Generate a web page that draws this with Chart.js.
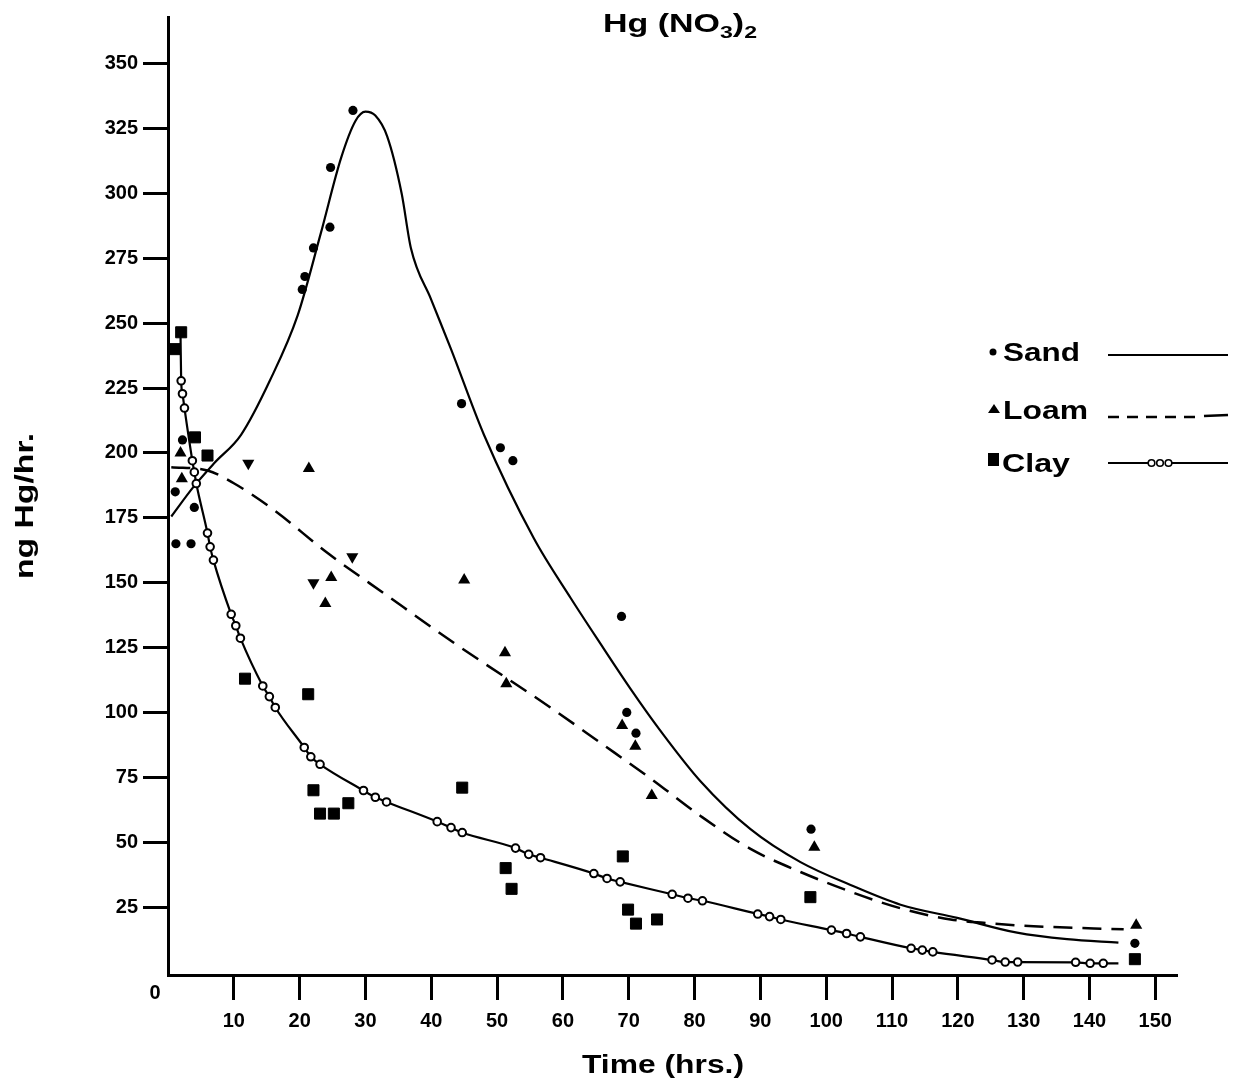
<!DOCTYPE html>
<html>
<head>
<meta charset="utf-8">
<title>Hg (NO3)2</title>
<script src="https://cdn.jsdelivr.net/npm/chart.js@4.4.0/dist/chart.umd.min.js"></script>
<style>
  html, body { margin: 0; padding: 0; background: #fff; }
  #wrap { position: relative; width: 1234px; height: 1088px; }
</style>
</head>
<body>
<div id="wrap"><canvas id="chart"></canvas></div>
<script>
// tick labels
var xTicks = [10, 20, 30, 40, 50, 60, 70, 80, 90, 100, 110, 120, 130, 140, 150];
var yTicks = [25, 50, 75, 100, 125, 150, 175, 200, 225, 250, 275, 300, 325, 350];

// measured points (time in hrs, ng Hg/hr)
var sandX = [1.1, 1.2, 2.2, 3.5, 4.0, 20.4, 20.8, 22.1, 24.6, 24.7, 28.1, 44.6, 50.5, 52.4, 68.9, 69.7, 71.1, 97.7, 146.9];
var sandY = [185, 165, 205, 165, 179, 263, 268, 279, 287, 310, 332, 219, 202, 197, 137, 100, 92, 55, 11];

var loamX = [1.9, 2.1, 21.4, 23.9, 24.8, 45.0, 51.2, 51.4, 69.0, 71.0, 73.5, 98.2, 147.1];
var loamY = [200, 190, 194, 142, 152, 151, 123, 111, 95, 87, 68, 48, 18];

// inverted triangles
var loamDownX = [12.2, 22.1, 28.0];
var loamDownY = [196, 150, 160];

var clayX = [1.0, 2.0, 4.1, 6.0, 11.7, 21.3, 22.1, 23.1, 25.2, 27.4, 44.7, 51.3, 52.2, 69.1, 69.9, 71.1, 74.3, 97.6, 146.9];
var clayY = [240, 246.5, 206, 199, 113, 107, 70, 61, 61, 65, 71, 40, 32, 44.5, 24, 18.6, 20.2, 28.8, 4.9];

// fitted curves
var sandCurveX = [0.5, 3.9, 7, 11.1, 15.5, 19.7, 23.2, 26.3, 28.5, 30, 31.5, 33.3, 35.5, 36.9, 40, 43, 48, 55.6, 61.2, 65.7, 70.3, 74.8, 80.9, 88.5, 96.1, 103.7, 111.3, 119.9, 129, 136.6, 144.4];
var sandCurveY = [175.5, 187, 196, 207, 228, 253, 284.5, 313.7, 328, 331.5, 330, 322, 300, 279, 259, 240, 207, 167, 144, 126.5, 109, 93, 73.5, 55, 42.3, 33.5, 25.9, 20.8, 15.1, 12.6, 11.3];

var loamCurveX = [0.5, 6, 10, 16.1, 24.2, 33.3, 43.5, 58.1, 65.7, 73.3, 80.9, 88.5, 96.1, 103.7, 111.3, 118.9, 123.9, 131.5, 145.2];
var loamCurveY = [194.5, 193.2, 188.3, 178, 161.5, 145, 126.7, 101.9, 88.3, 74.6, 60.1, 47.4, 38.5, 30.9, 24.5, 20.2, 18.9, 17.6, 16.4];

var clayCurveX = [1.9, 2.0, 2.2, 2.5, 3.7, 4.0, 4.3, 6.0, 6.4, 6.9, 9.6, 10.3, 11.0, 14.4, 15.4, 16.3, 20.7, 21.7, 23.1, 29.7, 31.5, 33.2, 40.9, 43.0, 44.7, 52.8, 54.8, 56.6, 64.7, 66.7, 68.7, 76.6, 79.0, 81.2, 89.6, 91.4, 93.1, 100.8, 103.1, 105.2, 112.9, 114.6, 116.2, 125.2, 127.2, 129.1, 137.9, 140.1, 142.1, 144.4];
var clayCurveY = [246, 227.8, 222.8, 217.3, 197, 192.6, 188.2, 169.1, 163.8, 158.7, 137.8, 133.4, 128.6, 110.2, 106.1, 101.9, 86.5, 82.9, 80, 69.9, 67.3, 65.5, 57.9, 55.6, 53.7, 47.7, 45.3, 44, 37.9, 36, 34.7, 29.9, 28.4, 27.4, 22.3, 21.3, 20.2, 16.1, 14.8, 13.5, 9.1, 8.4, 7.7, 4.6, 3.8, 3.8, 3.7, 3.3, 3.3, 3.3];

var FONT = '"Liberation Sans", Arial, Helvetica, sans-serif';

function zip(xs, ys) {
  return xs.map(function (x, i) { return { x: x, y: ys[i] }; });
}

// text stretched to the width it has in the scan
function wideText(ctx, text, x, y, size, width) {
  ctx.save();
  ctx.font = 'bold ' + size + 'px ' + FONT;
  var natural = ctx.measureText(text).width;
  ctx.translate(x, y);
  ctx.scale(width / natural, 1);
  ctx.textAlign = 'left';
  ctx.textBaseline = 'alphabetic';
  ctx.fillText(text, 0, 0);
  ctx.restore();
}

var labelsPlugin = {
  id: 'labels',
  afterDraw: function (chart) {
    var ctx = chart.ctx;
    ctx.save();
    ctx.fillStyle = '#000';
    ctx.strokeStyle = '#000';

    // title Hg (NO3)2 with subscripts
    var parts = [['Hg (NO', 25, 0], ['3', 17, 6], [')', 25, 0], ['2', 17, 6]];
    var total = 0;
    parts.forEach(function (p) {
      ctx.font = 'bold ' + p[1] + 'px ' + FONT;
      p.push(ctx.measureText(p[0]).width);
      total += p[3];
    });
    var sx = 154 / total, cx = 603;
    parts.forEach(function (p) {
      wideText(ctx, p[0], cx, 32 + p[2], p[1], p[3] * sx);
      cx += p[3] * sx;
    });

    // axis titles
    wideText(ctx, 'Time (hrs.)', 582, 1073, 25, 162);
    ctx.save();
    ctx.translate(33, 579);
    ctx.rotate(-Math.PI / 2);
    wideText(ctx, 'ng Hg/hr.', 0, 0, 25, 146);
    ctx.restore();

    // corner zero
    ctx.font = 'bold 20px ' + FONT;
    ctx.textAlign = 'center';
    ctx.textBaseline = 'middle';
    ctx.fillText('0', 155, 993);

    // legend
    ctx.beginPath();
    ctx.arc(993, 352, 3.5, 0, Math.PI * 2);
    ctx.fill();
    wideText(ctx, 'Sand', 1003, 361, 26, 77);
    ctx.lineWidth = 2;
    ctx.beginPath();
    ctx.moveTo(1108, 355);
    ctx.lineTo(1228, 355);
    ctx.stroke();

    ctx.beginPath();
    ctx.moveTo(988, 413);
    ctx.lineTo(994, 404);
    ctx.lineTo(1000, 413);
    ctx.closePath();
    ctx.fill();
    wideText(ctx, 'Loam', 1003, 419, 26, 85);
    ctx.lineWidth = 2.4;
    ctx.setLineDash([11, 8]);
    ctx.beginPath();
    ctx.moveTo(1108, 417);
    ctx.lineTo(1198, 417);
    ctx.stroke();
    ctx.setLineDash([]);
    ctx.beginPath();
    ctx.moveTo(1204, 416);
    ctx.lineTo(1228, 415);
    ctx.stroke();

    ctx.fillRect(988, 453, 11, 13);
    wideText(ctx, 'Clay', 1002, 472, 26, 68);
    ctx.lineWidth = 2;
    ctx.beginPath();
    ctx.moveTo(1108, 463);
    ctx.lineTo(1148, 463);
    ctx.moveTo(1172, 463);
    ctx.lineTo(1228, 463);
    ctx.stroke();
    ctx.lineWidth = 1.6;
    [1151.5, 1160, 1168.5].forEach(function (x) {
      ctx.beginPath();
      ctx.arc(x, 463, 3.3, 0, Math.PI * 2);
      ctx.stroke();
    });
    ctx.restore();
  }
};

var tickFont = { family: FONT, size: 20, weight: 'bold' };
var lastClay = clayCurveX.length - 1;

new Chart(document.getElementById('chart').getContext('2d'), {
  type: 'scatter',
  data: {
    datasets: [
      {
        label: 'Sand',
        data: zip(sandX, sandY),
        pointStyle: 'circle',
        pointRadius: 4.6,
        pointBackgroundColor: '#000',
        pointBorderColor: '#000',
        pointBorderWidth: 0,
        clip: false
      },
      {
        label: 'Loam',
        data: zip(loamX, loamY),
        pointStyle: 'triangle',
        pointRadius: 7,
        pointBackgroundColor: '#000',
        pointBorderColor: '#000',
        pointBorderWidth: 0,
        clip: false
      },
      {
        label: 'Loam (inverted)',
        data: zip(loamDownX, loamDownY),
        pointStyle: 'triangle',
        pointRotation: 180,
        pointRadius: 7,
        pointBackgroundColor: '#000',
        pointBorderColor: '#000',
        pointBorderWidth: 0,
        clip: false
      },
      {
        label: 'Clay',
        data: zip(clayX, clayY),
        pointStyle: 'rect',
        pointRadius: 7.8,
        pointBackgroundColor: '#000',
        pointBorderColor: '#000',
        pointBorderWidth: 1,
        clip: false
      },
      {
        label: 'Clay curve',
        data: zip(clayCurveX, clayCurveY),
        showLine: true,
        cubicInterpolationMode: 'monotone',
        borderColor: '#000',
        borderWidth: 2.2,
        pointStyle: 'circle',
        pointRadius: function (c) { return (c.dataIndex === 0 || c.dataIndex === lastClay) ? 0 : 3.8; },
        pointBackgroundColor: '#fff',
        pointBorderColor: '#000',
        pointBorderWidth: 2,
        clip: false
      },
      {
        label: 'Sand curve',
        data: zip(sandCurveX, sandCurveY),
        showLine: true,
        cubicInterpolationMode: 'monotone',
        borderColor: '#000',
        borderWidth: 2.2,
        pointRadius: 0,
        clip: false
      },
      {
        label: 'Loam curve',
        data: zip(loamCurveX, loamCurveY),
        showLine: true,
        cubicInterpolationMode: 'monotone',
        borderColor: '#000',
        borderWidth: 2.5,
        borderDash: [19, 10],
        pointRadius: 0,
        clip: false
      }
    ]
  },
  options: {
    responsive: true,
    maintainAspectRatio: false,
    animation: false,
    events: [],
    layout: { padding: { top: 10, right: 57, left: 0, bottom: 0 } },
    plugins: {
      legend: { display: false },
      title: { display: false },
      tooltip: { enabled: false }
    },
    scales: {
      x: {
        type: 'linear',
        min: 0,
        max: 153.3,
        afterBuildTicks: function (s) { s.ticks = xTicks.map(function (v) { return { value: v }; }); },
        afterFit: function (s) { s.height = 113; },
        grid: { drawOnChartArea: false, drawTicks: true, tickLength: 25, tickWidth: 3, tickColor: '#000' },
        border: { display: true, color: '#000', width: 3 },
        ticks: { color: '#000', font: tickFont, padding: 9, maxRotation: 0, autoSkip: false }
      },
      y: {
        type: 'linear',
        min: -1.2,
        max: 368,
        afterBuildTicks: function (s) { s.ticks = yTicks.map(function (v) { return { value: v }; }); },
        afterFit: function (s) { s.width = 168; },
        grid: { drawOnChartArea: false, drawTicks: true, tickLength: 25, tickWidth: 3, tickColor: '#000' },
        border: { display: true, color: '#000', width: 3 },
        ticks: { color: '#000', font: tickFont, padding: 5, autoSkip: false }
      }
    }
  },
  plugins: [labelsPlugin]
});
</script>
</body>
</html>
